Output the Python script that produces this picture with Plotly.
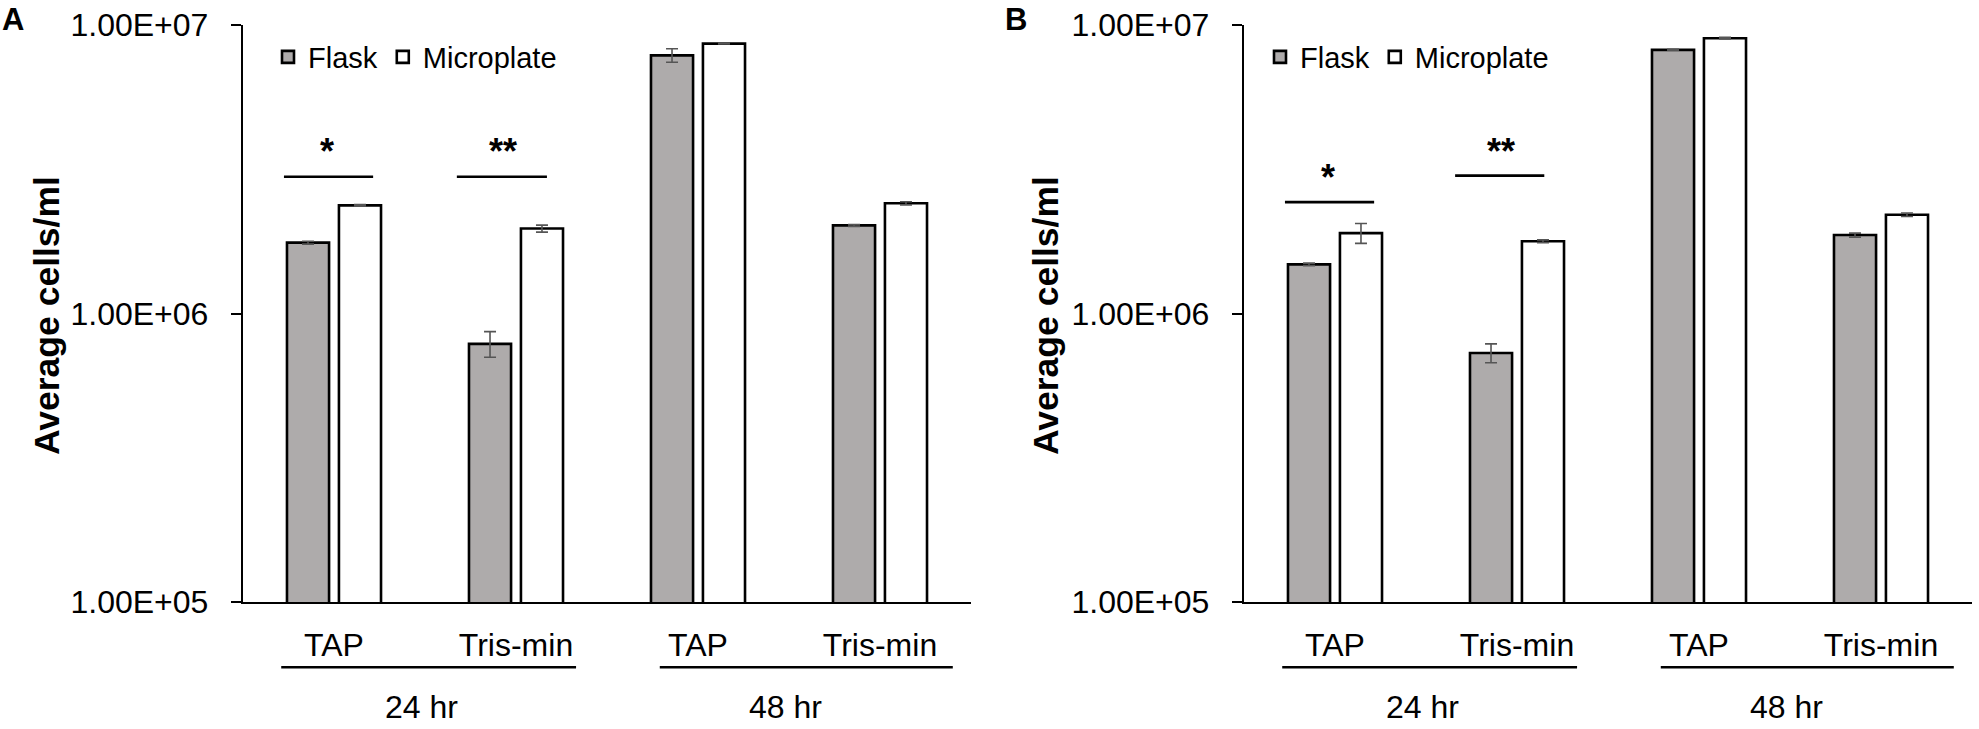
import plotly.graph_objects as go

# ---------------- data ----------------
media = ["TAP", "Tris-min", "TAP", "Tris-min"]
times = ["24 hr", "48 hr"]
series = ["Flask", "Microplate"]

a_flask = [1.76e6, 7.85e5, 7.85e6, 2.02e6]
a_flask_err = [2.0e4, 8.0e4, 4.2e5, 1.5e4]
a_micro = [2.37e6, 1.97e6, 8.62e6, 2.41e6]
a_micro_err = [1.5e4, 5.5e4, 3.0e4, 3.0e4]

b_flask = [1.48e6, 7.30e5, 8.20e6, 1.87e6]
b_flask_err = [1.5e4, 5.5e4, 3.0e4, 3.0e4]
b_micro = [1.90e6, 1.78e6, 9.00e6, 2.20e6]
b_micro_err = [1.5e5, 2.0e4, 6.0e4, 3.0e4]

y_tickvals = [1e5, 1e6, 1e7]
y_ticktext = ["1.00E+05", "1.00E+06", "1.00E+07"]
y_title = "Average cells/ml"
panel_letters = ["A", "B"]
# significance marks: (category index of pair, label)
sig_a = [(0, "*"), (1, "**")]
sig_b = [(0, "*"), (1, "**")]

# ---------------- style ----------------
FONT = "Liberation Sans, Arial, sans-serif"
FLASK_FILL = "#AEABAB"
MICRO_FILL = "#FFFFFF"
EDGE = "#000000"
ERR = "#555555"
W, H = 1979, 729

xdom = {"A": [243 / W, 971 / W], "B": [1244 / W, 1972 / W]}
ydom = [127 / H, 704 / H]

x_idx = list(range(len(media)))

fig = go.Figure()

panels = [
    ("A", "x", "y", "legend", (a_flask, a_flask_err), (a_micro, a_micro_err)),
    ("B", "x2", "y2", "legend2", (b_flask, b_flask_err), (b_micro, b_micro_err)),
]

for name, xa, ya, leg, (fv, fe), (mv, me) in panels:
    for sname, (vals, errs), fill in [(series[0], (fv, fe), FLASK_FILL),
                                       (series[1], (mv, me), MICRO_FILL)]:
        fig.add_trace(go.Bar(
            x=x_idx, y=vals, name=sname,
            xaxis=xa, yaxis=ya, legend=leg,
            marker=dict(color=fill, line=dict(color=EDGE, width=2.6)),
            error_y=dict(type="data", array=errs, visible=True,
                         color=ERR, thickness=1.6, width=6),
        ))

def yaxis_cfg(xanchor):
    return dict(
        type="log", range=[5, 7], domain=ydom, anchor=xanchor,
        tickvals=y_tickvals, ticktext=y_ticktext,
        ticks="outside", ticklen=10, tickwidth=2.4, tickcolor="black",
        showline=True, linecolor="black", linewidth=2.4,
        showgrid=False, zeroline=False,
        tickfont=dict(family=FONT, size=32, color="black"),
        ticklabelstandoff=16,
    )

def yaxis_inside(over, xanchor):
    return dict(
        type="log", range=[5, 7], domain=ydom, anchor=xanchor, overlaying=over,
        tickvals=y_tickvals, ticks="inside", ticklen=8, tickwidth=2.4,
        tickcolor="black", showticklabels=False, showline=False,
        showgrid=False, zeroline=False,
    )

def xaxis_cfg(dom, yanchor):
    return dict(
        domain=dom, anchor=yanchor, range=[-0.5, len(media) - 0.5],
        tickvals=x_idx, ticktext=media, ticks="",
        showline=True, linecolor="black", linewidth=2.4,
        showgrid=False, zeroline=False,
        tickfont=dict(family=FONT, size=32, color="black"),
        ticklabelstandoff=13,
    )

fig.update_layout(
    width=W, height=H,
    margin=dict(l=0, r=0, t=0, b=0, autoexpand=False),
    plot_bgcolor="white", paper_bgcolor="white",
    barmode="group", bargap=0.429, bargroupgap=0.19,
    font=dict(family=FONT, color="black"),
    xaxis=xaxis_cfg(xdom["A"], "y"),
    xaxis2=xaxis_cfg(xdom["B"], "y2"),
    yaxis=yaxis_cfg("x"),
    yaxis2=yaxis_cfg("x2"),
    yaxis3=yaxis_inside("y", "x"),
    yaxis4=yaxis_inside("y2", "x2"),
    legend=dict(orientation="h", x=268 / W, y=1 - 57 / H, xanchor="left",
                yanchor="middle", font=dict(family=FONT, size=29),
                bgcolor="rgba(0,0,0,0)", itemclick=False, tracegroupgap=0),
    legend2=dict(orientation="h", x=1260 / W, y=1 - 57 / H, xanchor="left",
                 yanchor="middle", font=dict(family=FONT, size=29),
                 bgcolor="rgba(0,0,0,0)", itemclick=False, tracegroupgap=0),
    showlegend=True,
)

shapes = []
annotations = []

# panel letters and y titles
for name, xa, ya, ttl_px, letter_px in [("A", "x", "y", 47, 13), ("B", "x2", "y2", 1046, 1016)]:
    annotations.append(dict(text="<b>%s</b>" % name, x=letter_px / W, y=1,
                            xref="paper", yref="paper", showarrow=False,
                            xanchor="center", yanchor="top",
                            font=dict(family=FONT, size=31, color="black")))
    annotations.append(dict(text="<b>%s</b>" % y_title, x=ttl_px / W,
                            y=1 - 316 / H, xref="paper", yref="paper",
                            xanchor="center", yanchor="middle",
                            textangle=-90, showarrow=False,
                            font=dict(family=FONT, size=35.5, color="black")))

# group (time) labels and lines below axis
group_spans = [(-0.29, 1.33), (1.79, 3.40)]
for xa, ya in [("x", "y"), ("x2", "y2")]:
    for (g0, g1), tlabel, ci in zip(group_spans, times, [(0, 1), (2, 3)]):
        shapes.append(dict(type="line", xref=xa, yref="%s domain" % ya,
                           x0=g0, x1=g1, y0=-0.113, y1=-0.113,
                           line=dict(color="black", width=2.4)))
        annotations.append(dict(text=tlabel, xref=xa, yref="%s domain" % ya,
                                x=(ci[0] + ci[1]) / 2 - 0.02, y=-0.2166,
                                showarrow=False, yanchor="bottom", xanchor="center",
                                font=dict(family=FONT, size=32, color="black")))

# significance marks
sig_geom = {
    ("A", 0): (0.737, 0.780, -0.275, 0.215, -0.04),
    ("A", 1): (0.737, 0.780, 0.675, 1.17, 0.93),
    ("B", 0): (0.693, 0.736, -0.275, 0.215, -0.04),
    ("B", 1): (0.739, 0.780, 0.66, 1.15, 0.91),
}
for name, xa, ya, sigs in [("A", "x", "y", sig_a), ("B", "x2", "y2", sig_b)]:
    for ci, lab in sigs:
        ly, sy, x0, x1, sx = sig_geom[(name, ci)]
        shapes.append(dict(type="line", xref=xa, yref="%s domain" % ya,
                           x0=x0, x1=x1, y0=ly, y1=ly,
                           line=dict(color="black", width=2.6)))
        annotations.append(dict(text="<b>%s</b>" % lab, xref=xa, yref="%s domain" % ya,
                                x=sx, y=sy, showarrow=False, yanchor="middle",
                                xanchor="center",
                                font=dict(family=FONT, size=36, color="black")))

fig.update_layout(shapes=shapes, annotations=annotations)

fig.write_html(
    "out.html",
    config={"displayModeBar": False},
    post_script="document.body.style.margin='0';document.body.style.overflow='hidden';",
)
